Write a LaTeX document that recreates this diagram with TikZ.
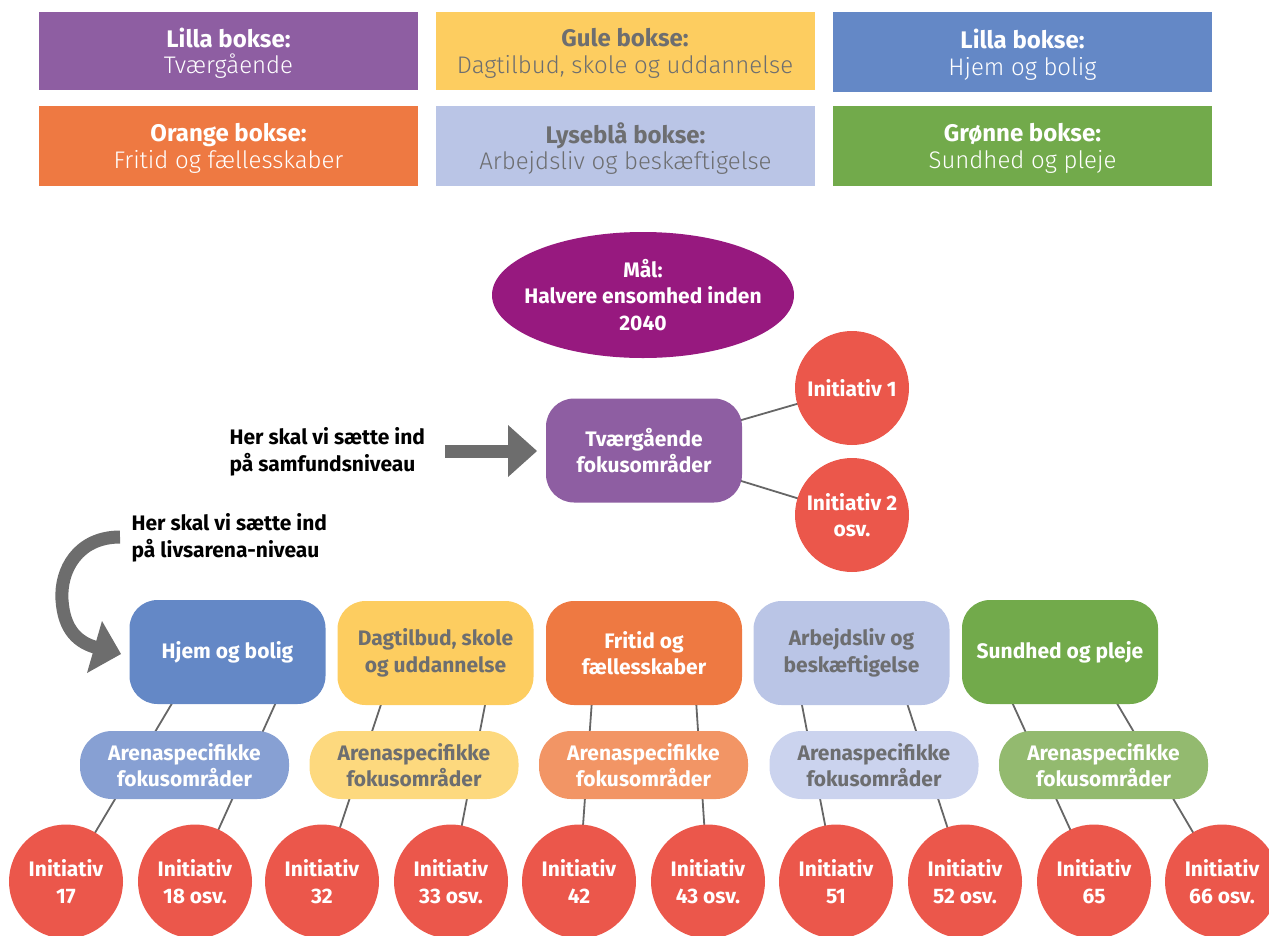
\documentclass[tikz,border=0pt]{standalone}
\usepackage{fontspec}
\setmainfont{Fira Sans}
\newfontfamily\lightfont{Fira Sans Light}
\usetikzlibrary{backgrounds,shapes.geometric,calc}
\definecolor{cPurple}{HTML}{8E5EA2}
\definecolor{cMaal}{HTML}{97197F}
\definecolor{cYellow}{HTML}{FDCD60}
\definecolor{cBlue}{HTML}{6488C6}
\definecolor{cOrange}{HTML}{EE7942}
\definecolor{cLBlue}{HTML}{BAC5E6}
\definecolor{cGreen}{HTML}{72AA4B}
\definecolor{cRed}{HTML}{EB574B}
\definecolor{cBlueL}{HTML}{87A0D3}
\definecolor{cYellowL}{HTML}{FDD97E}
\definecolor{cOrangeL}{HTML}{F29565}
\definecolor{cLBlueL}{HTML}{CBD3EE}
\definecolor{cGreenL}{HTML}{93BA6F}
\definecolor{cGrayText}{HTML}{6D6E70}
\definecolor{cArrow}{HTML}{6D6D6D}
\definecolor{cLine}{HTML}{666666}
\tikzset{
  legendbox/.style={rectangle, minimum width=379pt, minimum height=78pt, inner sep=0pt},
  legendtext/.style={align=center, inner sep=0pt, text=white, yshift=-2.5pt, font=\fontsize{24}{26.5}\selectfont},
  nodefont/.style={font=\bfseries\fontsize{21}{26.5}\selectfont},
  bigbox/.style={rectangle, rounded corners=28pt, minimum width=196pt, minimum height=104pt, align=center, inner sep=0pt, text=white, nodefont},
  subbox/.style={rectangle, rounded corners=32pt, minimum width=209pt, minimum height=68pt, align=center, inner sep=0pt, text=white, nodefont},
  initc/.style={circle, fill=cRed, minimum size=114pt, inner sep=0pt, align=center, text=white, nodefont},
  conn/.style={draw=cLine, line width=1.8pt},
  note/.style={anchor=west, align=left, text=black, nodefont}
}
\begin{document}
\begin{tikzpicture}[x=1pt,y=-1pt]
\useasboundingbox (0,0) rectangle (1269,935);
% legend
\node[legendbox, fill=cPurple] (lg1) at (228.5,50.5) {};
\node[legendbox, fill=cYellow] (lg2) at (625,51) {};
\node[legendbox, fill=cBlue, minimum height=80pt] (lg3) at (1022.5,52) {};
\node[legendbox, fill=cOrange, minimum height=80pt] (lg4) at (228.5,146) {};
\node[legendbox, fill=cLBlue, minimum height=80pt] (lg5) at (625.5,146) {};
\node[legendbox, fill=cGreen, minimum height=80pt] (lg6) at (1022.5,146) {};
\node[legendtext] (lt1) at (lg1.center) {\textbf{Lilla bokse:}\\{\lightfont Tværgående}};
\node[legendtext, text=cGrayText] (lt2) at (lg2.center) {\textbf{Gule bokse:}\\{\lightfont Dagtilbud, skole og uddannelse}};
\node[legendtext] (lt3) at (lg3.center) {\textbf{Lilla bokse:}\\{\lightfont Hjem og bolig}};
\node[legendtext] (lt4) at (lg4.center) {\textbf{Orange bokse:}\\{\lightfont Fritid og fællesskaber}};
\node[legendtext, text=cGrayText] (lt5) at (lg5.center) {\textbf{Lyseblå bokse:}\\{\lightfont Arbejdsliv og beskæftigelse}};
\node[legendtext] (lt6) at (lg6.center) {\textbf{Grønne bokse:}\\{\lightfont Sundhed og pleje}};
% goal
\node[ellipse, fill=cMaal, minimum width=302pt, minimum height=126pt, inner sep=0pt] (maal) at (643,295) {};
\node[align=center, inner sep=0pt, text=white, nodefont] (maaltxt) at (maal.center) {Mål:\\Halvere ensomhed inden\\2040};
% cross-cutting
\node[bigbox, fill=cPurple] (tv) at (644,450.5) {Tværgående\\fokusområder};
\node[initc] (i1) at (852,388) {Initiativ 1};
\node[initc] (i2) at (852,515) {Initiativ 2\\osv.};
% notes
\node[note] (n1) at (226,452) {Her skal vi sætte ind\\på samfundsniveau};
\node[note] (n2) at (128,538) {Her skal vi sætte ind\\på livsarena-niveau};
% arrows
\fill[cArrow] (445,445) rectangle (509,458);
\fill[cArrow] (508,425) -- (537,451) -- (508,477) -- cycle;
\draw[cArrow, line width=13pt] (120,537) .. controls (78,537) and (60,570) .. (62,600) .. controls (64,630) and (78,643) .. (98,648);
\fill[cArrow] (102,621) -- (121,654) -- (87,673) -- cycle;
% arenas
\node[bigbox, fill=cBlue] (b1) at (227.5,652) {Hjem og bolig};
\node[bigbox, fill=cYellow, text=cGrayText] (b2) at (435.5,653) {Dagtilbud, skole\\og uddannelse};
\node[bigbox, fill=cOrange] (b3) at (644,653) {Fritid og\\fællesskaber};
\node[bigbox, fill=cLBlue, text=cGrayText] (b4) at (851.5,653) {Arbejdsliv og\\beskæftigelse};
\node[bigbox, fill=cGreen] (b5) at (1060,652) {Sundhed og pleje};
\node[subbox, fill=cBlueL] (s1) at (184.5,765) {Arenaspecifikke\\fokusområder};
\node[subbox, fill=cYellowL, text=cGrayText] (s2) at (414,765) {Arenaspecifikke\\fokusområder};
\node[subbox, fill=cOrangeL] (s3) at (643.5,765) {Arenaspecifikke\\fokusområder};
\node[subbox, fill=cLBlueL, text=cGrayText] (s4) at (874,765) {Arenaspecifikke\\fokusområder};
\node[subbox, fill=cGreenL] (s5) at (1103.5,765) {Arenaspecifikke\\fokusområder};
\node[initc] (c1) at (66,881.5) {Initiativ\\17};
\node[initc] (c2) at (195,881.5) {Initiativ\\18 osv.};
\node[initc] (c3) at (322,881.5) {Initiativ\\32};
\node[initc] (c4) at (451,881.5) {Initiativ\\33 osv.};
\node[initc] (c5) at (579,881.5) {Initiativ\\42};
\node[initc] (c6) at (708,881.5) {Initiativ\\43 osv.};
\node[initc] (c7) at (836,881.5) {Initiativ\\51};
\node[initc] (c8) at (965,881.5) {Initiativ\\52 osv.};
\node[initc] (c9) at (1094,881.5) {Initiativ\\65};
\node[initc] (c10) at (1222,881.5) {Initiativ\\66 osv.};
% connectors
\coordinate (t1) at (174,700);
\coordinate (t2) at (277,700);
\coordinate (t3) at (382.5,700);
\coordinate (t4) at (486,700);
\coordinate (t5) at (592,700);
\coordinate (t6) at (696,700);
\coordinate (t7) at (801,700);
\coordinate (t8) at (906,700);
\coordinate (t9) at (1011,700);
\coordinate (t10) at (1115,700);
\coordinate (e1) at (738,421);
\coordinate (e2) at (738,480);
\begin{scope}[on background layer]
\draw[conn] (e1) -- (i1.center);
\draw[conn] (e2) -- (i2.center);
\foreach \k in {1,...,10} {\draw[conn] (t\k) -- (c\k.center);}
\end{scope}
\end{tikzpicture}
\end{document}
